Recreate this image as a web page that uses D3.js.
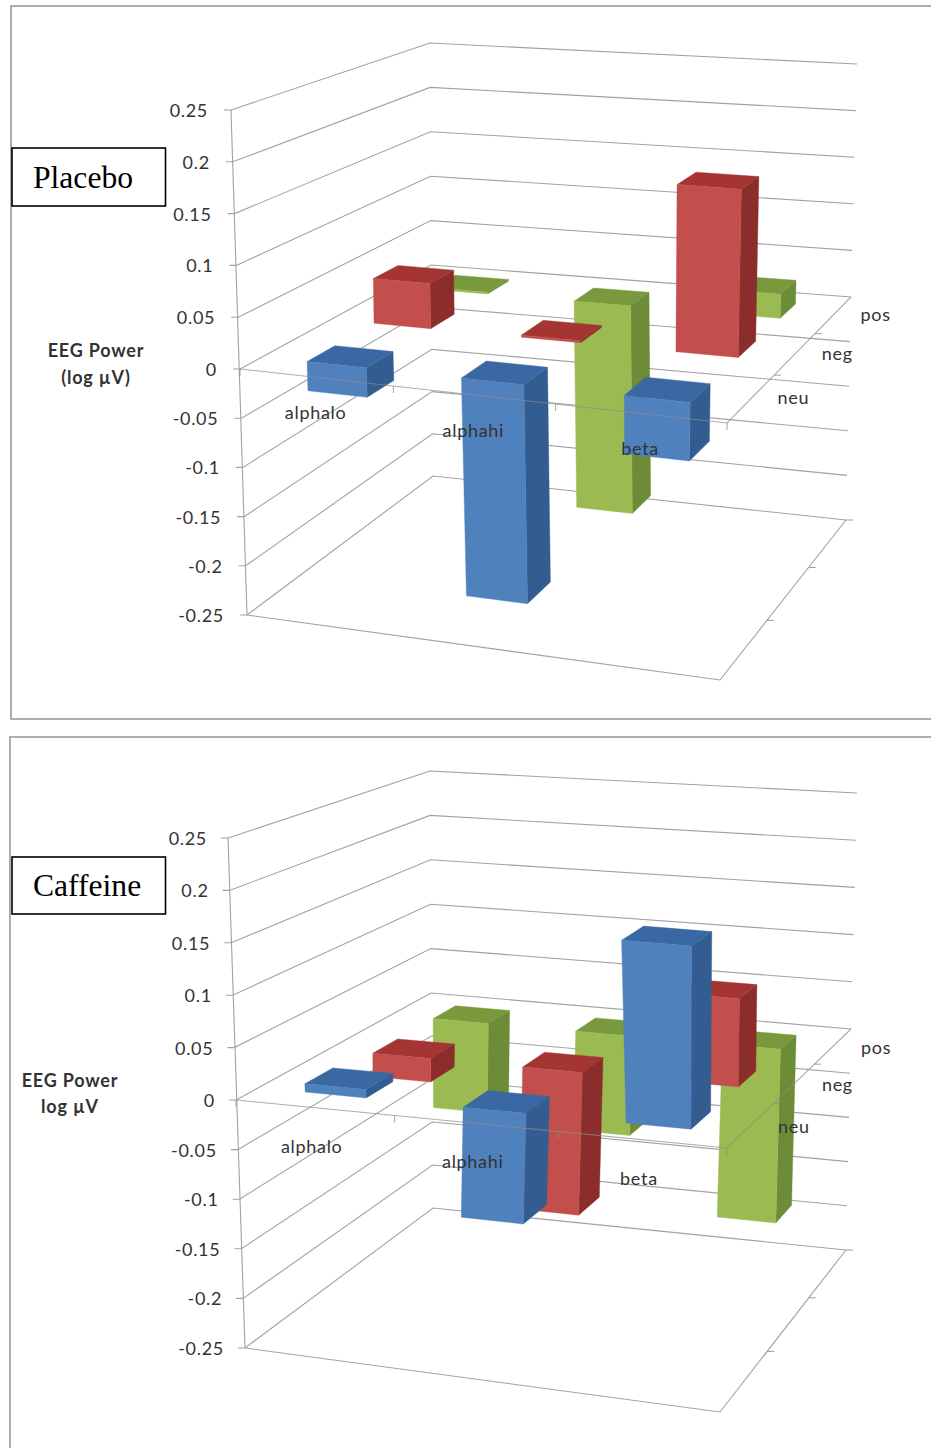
<!DOCTYPE html>
<html>
<head>
<meta charset="utf-8">
<script src="https://cdn.jsdelivr.net/npm/d3@7/dist/d3.min.js"></script>
<style>
  html, body { margin: 0; padding: 0; background: #fff; overflow: hidden; }
  text { font-family: Lato, "Open Sans", sans-serif; fill: #333; letter-spacing: 0.7px; }
</style>
</head>
<body>
<svg id="chart" width="931" height="1448"></svg>
<script>
// Frequency bands along the front axis, emotion conditions along the depth axis.
const categories = ["alphalo", "alphahi", "beta"];
const conditions = ["neu", "neg", "pos"];
const levels = [0.25, 0.2, 0.15, 0.1, 0.05, 0, -0.05, -0.1, -0.15, -0.2, -0.25];

// EEG power change per band, one list per condition.
const placeboNeu = [-0.03, -0.22, -0.058];
const placeboNeg = [0.046, 0.002, 0.166];
const placeboPos = [0.002, -0.23, 0.025];
const caffeineNeu = [0.008, -0.11, 0.173];
const caffeineNeg = [-0.025, -0.15, 0.087];
const caffeinePos = [-0.1, -0.11, -0.19];

const palette = {
  neu: { front: "#4f81bd", top: "#3a68a3", side: "#335d90" },
  neg: { front: "#c24f4b", top: "#a43532", side: "#8b2e2b" },
  pos: { front: "#9bbb52", top: "#789a3d", side: "#6c8c38" }
};

const svg = d3.select("#chart");
const gridColor = "#a2a2a2";

// Unit square to quadrilateral, used to give the floor its perspective.
function squareToQuad(q) {
  const [p0, p1, p2, p3] = q;
  const dx1 = p1[0] - p2[0], dx2 = p3[0] - p2[0], sx = p0[0] - p1[0] + p2[0] - p3[0];
  const dy1 = p1[1] - p2[1], dy2 = p3[1] - p2[1], sy = p0[1] - p1[1] + p2[1] - p3[1];
  const det = dx1 * dy2 - dx2 * dy1;
  const g = (sx * dy2 - dx2 * sy) / det;
  const h = (dx1 * sy - sx * dy1) / det;
  const a = p1[0] - p0[0] + g * p1[0], b = p3[0] - p0[0] + h * p3[0], c = p0[0];
  const d = p1[1] - p0[1] + g * p1[1], e = p3[1] - p0[1] + h * p3[1], f = p0[1];
  return (u, w) => {
    const k = g * u + h * w + 1;
    return [(a * u + b * w + c) / k, (d * u + e * w + f) / k];
  };
}

function drawPanel(cfg) {
  const g = svg.append("g");

  // Each box corner moves with the value through its own pair of scales.
  const cornerScale = pts => {
    const dom = [-0.25, 0, 0.25];
    return {
      x: d3.scaleLinear().domain(dom).range(pts.map(p => p[0])),
      y: d3.scaleLinear().domain(dom).range(pts.map(p => p[1]))
    };
  };
  const corners = ["fl", "fr", "br", "bl"].map(k => cornerScale(cfg.box[k]));
  const project = (u, w, v) => {
    const quad = corners.map(c => [c.x(v), c.y(v)]);
    // Slight easing along the front axis evens out the category spacing.
    return squareToQuad(quad)(u + cfg.ease * u * (1 - u), w);
  };

  const band = d3.scaleBand().domain(categories).range([0, 1]).paddingInner(0.61).paddingOuter(0.3);
  const depth = d3.scaleBand().domain(conditions).range([0, 1]).paddingInner(0.6).paddingOuter(0.3);
  const line = d3.line();
  const vMin = d3.min(levels);

  // Panel frame runs off the right edge of the page.
  g.append("rect").attr("x", cfg.frame[0]).attr("y", cfg.frame[1])
    .attr("width", 1100).attr("height", cfg.frame[2])
    .attr("fill", "#fff").attr("stroke", "#9a9a9a").attr("stroke-width", 1.6);

  // Side and back walls.
  const walls = g.append("g").attr("fill", "none").attr("stroke", gridColor).attr("stroke-width", 1.1);
  levels.forEach(v => {
    const a = project(0, 0, v), b = project(0, 1, v), c = project(1, 1, v);
    walls.append("path").attr("d", line([[a[0] - 7, a[1]], a, b, c]));
  });
  walls.append("path").attr("d", line([project(0, 0, d3.max(levels)), project(0, 0, vMin)]));

  // Floor edges with their depth ticks.
  walls.append("path").attr("d", line([project(0, 0, vMin), project(1, 0, vMin), project(1, 1, vMin)]));
  d3.range(1, conditions.length + 1).forEach(i => {
    const p = project(1, i / conditions.length, vMin);
    walls.append("path").attr("d", line([p, [p[0] + 7, p[1]]]));
  });

  // Bars, back row first so nearer rows cover the ones behind.
  d3.range(conditions.length - 1, -1, -1).forEach(di => {
    const cond = conditions[di];
    const values = cfg.series[cond];
    const colors = palette[cond];
    const w0 = depth(cond), w1 = w0 + depth.bandwidth();
    categories.forEach((cat, ci) => {
      const u0 = band(cat), u1 = u0 + band.bandwidth();
      const hi = Math.max(values[ci], 0), lo = Math.min(values[ci], 0);
      const bar = g.append("g").attr("stroke-width", 0.4).attr("stroke-linejoin", "round");
      const face = (pts, fill) => bar.append("path")
        .attr("d", line(pts) + "Z").attr("fill", fill).attr("stroke", fill);
      face([project(u1, w0, hi), project(u1, w1, hi), project(u1, w1, lo), project(u1, w0, lo)], colors.side);
      face([project(u0, w0, hi), project(u1, w0, hi), project(u1, w1, hi), project(u0, w1, hi)], colors.top);
      face([project(u0, w0, hi), project(u1, w0, hi), project(u1, w0, lo), project(u0, w0, lo)], colors.front);
    });
  });

  // Zero-level axes lie over the bars.
  const axes = g.append("g").attr("fill", "none").attr("stroke", "#8c8c8c")
    .attr("stroke-opacity", 0.7).attr("stroke-width", 1.1);
  axes.append("path").attr("d", line([project(0, 0, 0), project(1, 0, 0), project(1, 1, 0)]));
  d3.range(0, categories.length + 1).forEach(i => {
    const p = project(i / categories.length, 0, 0);
    axes.append("path").attr("d", line([p, [p[0], p[1] + 7]]));
  });
  d3.range(1, conditions.length).forEach(i => {
    const p = project(1, i / conditions.length, 0);
    axes.append("path").attr("d", line([p, [p[0] + 7, p[1]]]));
  });

  // Value labels follow the leaning vertical axis.
  levels.forEach(v => {
    const p = project(0, 0, v);
    g.append("text").attr("x", p[0] - cfg.labels.tickGap).attr("y", p[1] + 7)
      .attr("text-anchor", "end").attr("font-size", 18).text(v);
  });

  categories.forEach((c, i) => {
    const p = project((i + 0.5) / categories.length, 0, 0);
    g.append("text").attr("x", p[0] + cfg.labels.catDx).attr("y", p[1] + 42 + cfg.labels.catDy)
      .attr("text-anchor", "middle").attr("font-size", 18).text(c);
  });
  conditions.forEach((c, i) => {
    const p = project(1, (i + 0.5) / conditions.length, 0);
    g.append("text").attr("x", p[0] + 42 + cfg.labels.depthDx).attr("y", p[1] + 6 + cfg.labels.depthDy)
      .attr("text-anchor", "middle").attr("font-size", 18).text(c);
  });

  // Axis title.
  cfg.title.lines.forEach((t, i) => {
    g.append("text").attr("x", cfg.title.x).attr("y", cfg.title.y[i])
      .attr("text-anchor", "middle").attr("font-size", 18).attr("font-weight", 700)
      .style("letter-spacing", "0.8px").text(t);
  });

  // Treatment label box.
  g.append("rect").attr("x", 12).attr("y", cfg.tag.y)
    .attr("width", 153.5).attr("height", cfg.tag.h)
    .attr("fill", "#fff").attr("stroke", "#000").attr("stroke-width", 1.6);
  g.append("text").attr("x", cfg.tag.x).attr("y", cfg.tag.base)
    .attr("font-size", 31.6).style("font-family", '"Liberation Serif", serif')
    .style("letter-spacing", "0").style("fill", "#000")
    .text(cfg.tag.text);
}

drawPanel({
  frame: [11, 6, 713],
  ease: 0.05,
  labels: { tickGap: 23, catDx: 0, catDy: 0, depthDx: 0, depthDy: 0 },
  box: {
    fl: [[247, 615], [240, 369], [231, 110]],
    fr: [[720, 680], [727, 423], [734, 150]],
    br: [[846, 520], [851, 297], [857, 64]],
    bl: [[433, 476], [431, 265], [430, 43]]
  },
  series: { neu: placeboNeu, neg: placeboNeg, pos: placeboPos },
  title: { lines: ["EEG Power", "(log µV)"], x: 96, y: [357, 384] },
  tag: { text: "Placebo", x: 33, base: 188, y: 148, h: 58 }
});

drawPanel({
  frame: [10, 737, 1000],
  ease: 0,
  labels: { tickGap: 21, catDx: -3, catDy: 3, depthDx: 1, depthDy: 2 },
  box: {
    fl: [[245, 1348], [236, 1100], [228, 838]],
    fr: [[720, 1412], [727, 1148], [734, 880]],
    br: [[846, 1250], [851, 1029], [857, 793]],
    bl: [[433, 1208], [431, 993], [430, 771]]
  },
  series: { neu: caffeineNeu, neg: caffeineNeg, pos: caffeinePos },
  title: { lines: ["EEG Power", "log µV"], x: 70, y: [1087, 1113] },
  tag: { text: "Caffeine", x: 33, base: 896, y: 857, h: 57 }
});
</script>
</body>
</html>
